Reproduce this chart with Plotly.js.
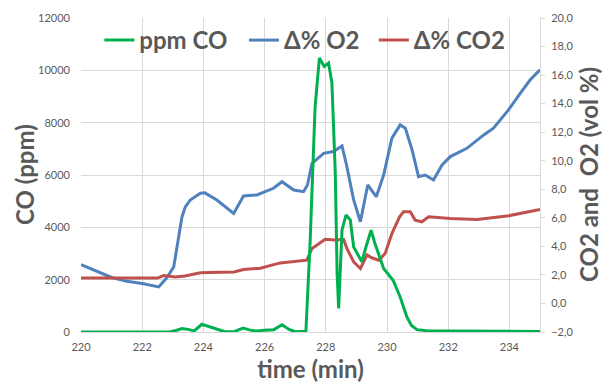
<!DOCTYPE html>
<html>
<head>
<meta charset="utf-8">
<script src="https://cdn.plot.ly/plotly-3.0.1.min.js"></script>
<style>html,body{margin:0;padding:0;background:#fff;}#chart{width:603px;height:383px;}</style>
</head>
<body>
<div id="chart"></div>
<script>
// CO (ppm), left axis
var coTime = [220, 222.9, 223.1, 223.3, 223.5, 223.7, 223.95, 224.2, 224.5, 224.7, 225.0, 225.3, 225.5, 225.7, 226.0, 226.3, 226.57, 226.8, 227.0, 227.35, 227.49, 227.65, 227.79, 227.95, 228.09, 228.2, 228.31, 228.37, 228.42, 228.53, 228.66, 228.8, 228.91, 229.18, 229.3, 229.48, 229.6, 229.89, 230.2, 230.43, 230.65, 230.8, 230.98, 231.3, 232, 233, 234, 235];
var coPpm  = [0, 0, 60, 130, 100, 40, 295, 200, 60, 10, 10, 150, 80, 40, 70, 90, 280, 100, 10, 30, 3500, 8600, 10470, 10150, 10280, 9520, 6070, 2240, 900, 3900, 4470, 4280, 3250, 2680, 3200, 3890, 3400, 2430, 1980, 1340, 575, 250, 90, 50, 40, 30, 20, 20];

// Δ% O2 (vol %), right axis
var o2Time = [220, 220.5, 221.0, 221.5, 222.0, 222.54, 222.81, 223.03, 223.14, 223.3, 223.41, 223.57, 223.9, 224.05, 224.44, 224.99, 225.31, 225.75, 226.29, 226.57, 226.95, 227.27, 227.4, 227.55, 227.93, 228.25, 228.53, 228.69, 228.91, 229.13, 229.37, 229.65, 229.89, 230.16, 230.43, 230.6, 230.82, 231.03, 231.25, 231.52, 231.8, 232.07, 232.61, 233.16, 233.48, 233.97, 234.36, 234.68, 235];
var o2Pct  = [2.72, 2.25, 1.82, 1.55, 1.40, 1.16, 1.82, 2.56, 3.97, 6.07, 6.77, 7.25, 7.72, 7.75, 7.25, 6.31, 7.53, 7.6, 8.07, 8.53, 7.95, 7.83, 8.3, 9.82, 10.52, 10.64, 11.04, 9.58, 7.25, 5.72, 8.3, 7.48, 9.0, 11.58, 12.51, 12.28, 10.76, 8.88, 9.0, 8.65, 9.7, 10.29, 10.87, 11.81, 12.28, 13.56, 14.74, 15.67, 16.37];

// Δ% CO2 (vol %), right axis
var co2Time = [220, 222.5, 222.7, 223.08, 223.4, 223.68, 223.9, 224.55, 225.0, 225.31, 225.86, 226.51, 227.0, 227.38, 227.55, 227.98, 228.3, 228.58, 228.69, 228.91, 229.13, 229.35, 229.5, 229.73, 229.94, 230.16, 230.41, 230.54, 230.76, 230.92, 231.14, 231.36, 232.07, 232.94, 233.92, 235];
var co2Pct  = [1.79, 1.78, 1.95, 1.85, 1.92, 2.05, 2.15, 2.18, 2.21, 2.38, 2.47, 2.84, 2.92, 3.03, 3.85, 4.49, 4.45, 4.49, 3.85, 2.91, 2.45, 3.4, 3.2, 3.03, 3.5, 4.9, 6.07, 6.42, 6.42, 5.84, 5.72, 6.07, 5.96, 5.89, 6.12, 6.59];

var seriesNames = ['ppm CO', 'Δ% O2', 'Δ% CO2'];
var xTitle = 'time (min)';
var yLeftTitle = 'CO (ppm)';
var yRightTitle = 'CO2 and&nbsp;&nbsp;O2 (vol %)';

var gray = '#595959';
var grid = '#d9d9d9';
var fam = 'Lato, "Open Sans", sans-serif';
var legFont = {family: fam, size: 24, color: gray, weight: 'bold'};
var titleFont = {family: fam, size: 24, color: gray, weight: 'bold'};

var traces = [
  {x: coTime, y: coPpm, name: seriesNames[0], type: 'scatter', mode: 'lines', yaxis: 'y2', legend: 'legend',
   line: {color: '#00b050', width: 3}},
  {x: o2Time, y: o2Pct, name: seriesNames[1], type: 'scatter', mode: 'lines', yaxis: 'y', legend: 'legend2',
   line: {color: '#4f81bd', width: 3}},
  {x: co2Time, y: co2Pct, name: seriesNames[2], type: 'scatter', mode: 'lines', yaxis: 'y', legend: 'legend3',
   line: {color: '#c0504d', width: 3}}
];

function leg(x) {
  return {orientation: 'h', x: x, xanchor: 'left', y: 1.0, yanchor: 'top',
          bgcolor: 'rgba(0,0,0,0)', font: legFont, itemwidth: 30};
}

var layout = {
  width: 603, height: 383,
  margin: {l: 81, r: 63, t: 18, b: 51},
  paper_bgcolor: '#fff', plot_bgcolor: '#fff',
  separators: ',.',
  font: {family: fam, color: gray, size: 11},
  showlegend: true,
  legend: leg(0.040),
  legend2: leg(0.355),
  legend3: leg(0.638),
  xaxis: {range: [220, 235], tick0: 220, dtick: 2, showgrid: true, gridcolor: grid, gridwidth: 1,
          zeroline: false, showline: true, linecolor: grid, linewidth: 1, ticks: '',
          ticklabelstandoff: 5,
          tickfont: {family: fam, size: 11, color: gray},
          title: {text: xTitle, font: titleFont, standoff: 8}},
  yaxis: {side: 'right', range: [-2, 20], tick0: -2, dtick: 2, tickformat: '.1f',
          showgrid: false, zeroline: false, showline: true, linecolor: grid, linewidth: 1,
          ticks: 'outside', ticklen: 4, tickcolor: grid,
          ticklabelstandoff: 4,
          tickfont: {family: fam, size: 11, color: gray}},
  yaxis2: {overlaying: 'y', side: 'left', range: [0, 12000], dtick: 2000, tickformat: 'd',
           showgrid: true, gridcolor: grid, gridwidth: 1, zeroline: false, showline: false,
           ticks: '', ticklabelstandoff: 10,
           tickfont: {family: fam, size: 11, color: gray}},
  annotations: [
    {text: yLeftTitle, xref: 'paper', yref: 'paper', x: 0, y: 0.5, xshift: -57, yshift: 0,
     xanchor: 'center', yanchor: 'middle', textangle: -90, showarrow: false, font: titleFont},
    {text: yRightTitle, xref: 'paper', yref: 'paper', x: 1, y: 0.5, xshift: 48, yshift: 0,
     xanchor: 'center', yanchor: 'middle', textangle: -90, showarrow: false, font: titleFont}
  ]
};

Plotly.newPlot('chart', traces, layout, {displayModeBar: false, staticPlot: true});
</script>
</body>
</html>
